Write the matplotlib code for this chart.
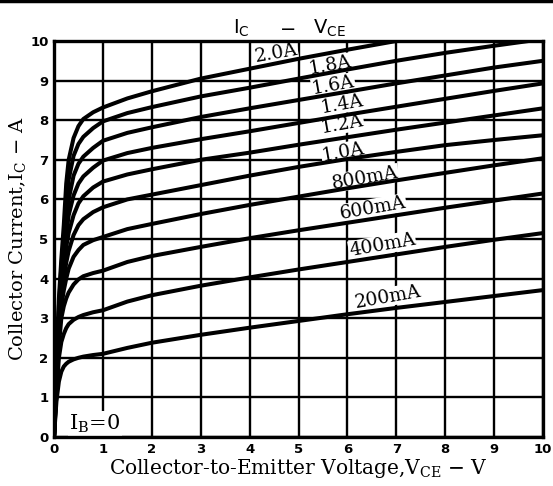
import matplotlib
matplotlib.use("Agg")
import matplotlib.pyplot as plt
from matplotlib.lines import Line2D

# ---------------- data ----------------
vce = [0, 0.05, 0.1, 0.15, 0.2, 0.25, 0.3, 0.4, 0.5, 0.6, 0.8, 1.0, 1.5, 2, 3, 4, 5, 6, 7, 8, 9, 10]

ic_2000mA = [0, 1.8, 3.5, 4.5, 5.35, 6.4, 7.0, 7.55, 7.85, 8.03, 8.2, 8.32, 8.55, 8.73, 9.05, 9.3, 9.55, 9.78, 10.0]
ic_1800mA = [0, 1.7, 3.3, 4.3, 5.0, 5.9, 6.5, 7.1, 7.4, 7.58, 7.8, 7.97, 8.18, 8.33, 8.6, 8.82, 9.05, 9.28, 9.5, 9.7, 9.88, 10.05]
ic_1600mA = [0, 1.6, 3.15, 4.1, 4.8, 5.5, 6.0, 6.6, 6.9, 7.08, 7.3, 7.48, 7.68, 7.82, 8.08, 8.3, 8.51, 8.72, 8.93, 9.13, 9.33, 9.5]
ic_1400mA = [0, 1.55, 3.0, 3.9, 4.6, 5.1, 5.6, 6.1, 6.4, 6.58, 6.8, 6.98, 7.17, 7.3, 7.52, 7.72, 7.93, 8.14, 8.34, 8.54, 8.74, 8.93]
ic_1200mA = [0, 1.5, 2.85, 3.7, 4.3, 4.8, 5.15, 5.6, 5.9, 6.08, 6.3, 6.45, 6.63, 6.76, 7.0, 7.18, 7.38, 7.57, 7.76, 7.94, 8.12, 8.3]
ic_1000mA = [0, 1.4, 2.7, 3.5, 4.0, 4.4, 4.7, 5.1, 5.35, 5.5, 5.68, 5.8, 6.0, 6.12, 6.36, 6.6, 6.82, 7.02, 7.2, 7.37, 7.5, 7.62]
ic_800mA = [0, 1.3, 2.5, 3.3, 3.7, 4.0, 4.25, 4.55, 4.72, 4.85, 4.97, 5.05, 5.25, 5.38, 5.63, 5.86, 6.07, 6.28, 6.48, 6.67, 6.86, 7.04]
ic_600mA = [0, 1.2, 2.3, 3.0, 3.3, 3.5, 3.65, 3.85, 3.98, 4.06, 4.14, 4.2, 4.42, 4.57, 4.8, 5.02, 5.22, 5.41, 5.6, 5.79, 5.97, 6.15]
ic_400mA = [0, 1.1, 2.0, 2.4, 2.6, 2.75, 2.85, 2.96, 3.03, 3.08, 3.15, 3.2, 3.42, 3.58, 3.82, 4.03, 4.23, 4.42, 4.61, 4.8, 4.98, 5.15]
ic_200mA = [0, 0.9, 1.4, 1.65, 1.78, 1.85, 1.9, 1.96, 2.0, 2.03, 2.07, 2.1, 2.25, 2.38, 2.58, 2.76, 2.93, 3.1, 3.26, 3.41, 3.56, 3.71]

curve_labels = ["2.0A", "1.8A", "1.6A", "1.4A", "1.2A", "1.0A", "800mA", "600mA", "400mA", "200mA"]
curves = [ic_2000mA, ic_1800mA, ic_1600mA, ic_1400mA, ic_1200mA, ic_1000mA,
          ic_800mA, ic_600mA, ic_400mA, ic_200mA]
label_x = [4.54, 5.64, 5.71, 5.89, 5.89, 5.91, 6.36, 6.52, 6.71, 6.83]
label_y = [9.70, 9.39, 8.89, 8.41, 7.90, 7.20, 6.54, 5.78, 4.85, 3.54]

x_ticks = [0, 1, 2, 3, 4, 5, 6, 7, 8, 9, 10]
y_ticks = [0, 1, 2, 3, 4, 5, 6, 7, 8, 9, 10]

# ---------------- figure ----------------
fig = plt.figure(figsize=(5.53, 4.86), dpi=100)
ax = fig.add_axes([54 / 553, 1 - 437 / 486, (543 - 54) / 553, (437 - 41) / 486])

ax.set_xlim(0, 10)
ax.set_ylim(0, 10)
ax.set_xticks(x_ticks)
ax.set_yticks(y_ticks)
ax.grid(True, color="black", linewidth=1.7, zorder=1)
ax.set_axisbelow(True)
ax.tick_params(length=0, pad=4)
for lab in ax.get_xticklabels() + ax.get_yticklabels():
    lab.set_fontfamily("DejaVu Sans")
    lab.set_fontweight("bold")
    lab.set_fontsize(9.5)
for sp in ax.spines.values():
    sp.set_linewidth(2.4)
    sp.set_zorder(5)

for ic in curves:
    ax.plot(vce[:len(ic)], ic, color="black", linewidth=2.9, zorder=3,
            solid_capstyle="round", solid_joinstyle="round")

for txt, lx, ly in zip(curve_labels, label_x, label_y):
    ax.text(lx, ly, txt, fontfamily="DejaVu Serif", fontsize=13.5,
            rotation=10, rotation_mode="anchor", ha="center", va="center",
            zorder=2,
            bbox=dict(facecolor="white", edgecolor="none", pad=0.3))

ax.text(0.84, 0.34, r"I$_\mathregular{B}$=0", fontfamily="DejaVu Serif",
        fontsize=15, ha="center", va="center", zorder=2,
        bbox=dict(facecolor="white", edgecolor="none", pad=1.0))

ax.set_xlabel(r"Collector-to-Emitter Voltage,V$_\mathregular{CE}$ $-$ V",
              fontfamily="DejaVu Serif", fontsize=14.5, labelpad=1)
ax.set_ylabel(r"Collector Current,I$_\mathregular{C}$ $-$ A",
              fontfamily="DejaVu Serif", fontsize=14, labelpad=1)

fig.text(241 / 553, 1 - 28 / 486, r"I$_\mathregular{C}$",
         fontfamily="DejaVu Sans", fontsize=14, ha="center", va="center")
fig.text(287 / 553, 1 - 28 / 486, r"$-$",
         fontfamily="DejaVu Sans", fontsize=14, ha="center", va="center")
fig.text(329 / 553, 1 - 28 / 486, r"V$_\mathregular{CE}$",
         fontfamily="DejaVu Sans", fontsize=14, ha="center", va="center")

# scan-edge line at the very top of the page
fig.add_artist(Line2D([0, 1], [1 - 1 / 486, 1 - 1 / 486], color="black",
                      linewidth=2.5, transform=fig.transFigure))

fig.savefig("out.png", dpi=100)
